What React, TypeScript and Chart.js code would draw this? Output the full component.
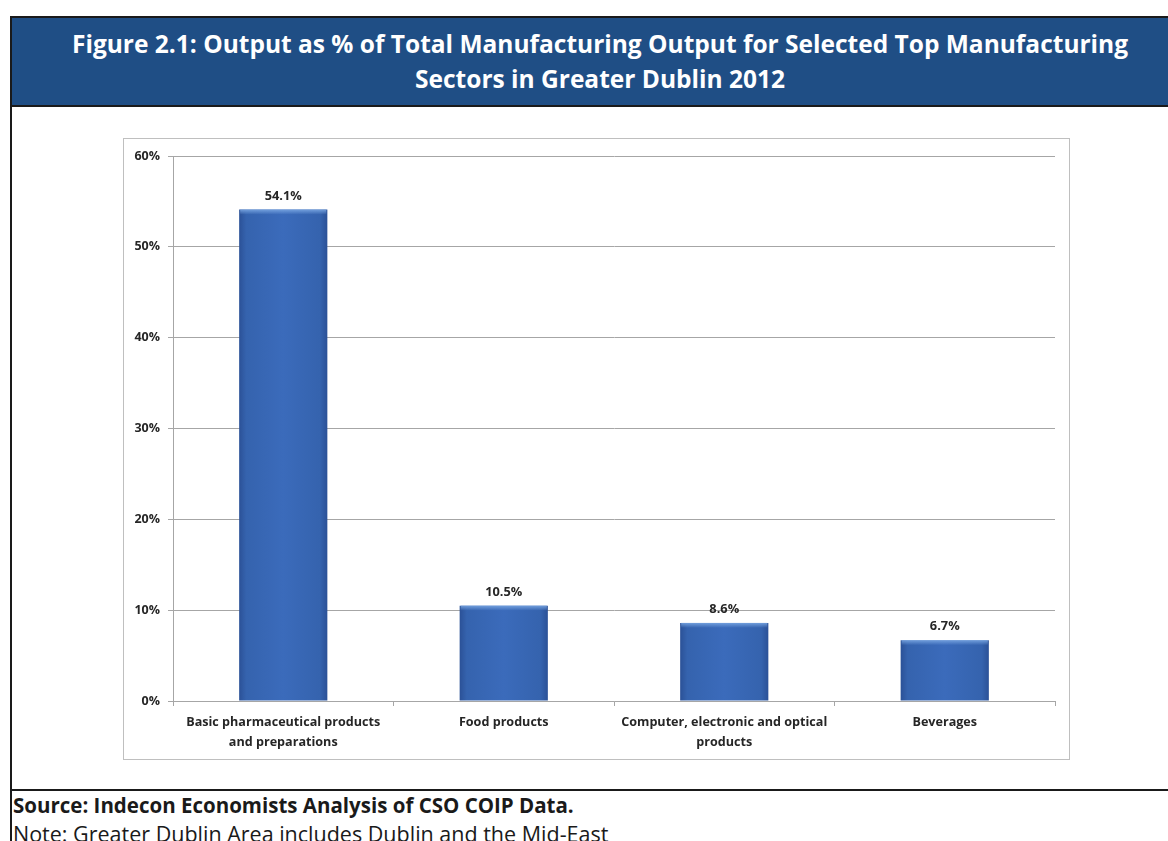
import React, { useEffect, useRef } from "react";
import { Chart, registerables } from "chart.js";

Chart.register(...registerables);

const categories: string[][] = [
  ["Basic pharmaceutical products", "and preparations"],
  ["Food products"],
  ["Computer, electronic and optical", "products"],
  ["Beverages"],
];
const outputShare: number[] = [54.1, 10.5, 8.6, 6.7];
const yTicks: number[] = [0, 10, 20, 30, 40, 50, 60];

const titleLines: string[] = [
  "Figure 2.1: Output as % of Total Manufacturing Output for Selected Top Manufacturing",
  "Sectors in Greater Dublin 2012",
];
const sourceText = "Source: Indecon Economists Analysis of CSO COIP Data.";
const noteText = "Note: Greater Dublin Area includes Dublin and the Mid-East";

const FONT = "'Open Sans', Lato, sans-serif";

const dataLabelPlugin = {
  id: "dataLabels",
  afterDatasetsDraw(chart: any) {
    const ctx = chart.ctx;
    const meta = chart.getDatasetMeta(0);
    ctx.save();
    ctx.font = `bold 12.8px ${FONT}`;
    ctx.fillStyle = "#262626";
    ctx.textAlign = "center";
    ctx.textBaseline = "bottom";
    meta.data.forEach((el: any, i: number) => {
      ctx.fillText(outputShare[i].toFixed(1) + "%", el.x, el.y - 7);
    });
    ctx.restore();
  },
};

function barFill(c: any) {
  const chart = c.chart;
  const xs = chart.scales?.x;
  const ys = chart.scales?.y;
  if (!xs || !ys || c.dataIndex == null || !chart.chartArea) return "#3A68B8";
  const cx = xs.getPixelForValue(c.dataIndex);
  const half = (xs.width / categories.length) * 0.4 / 2;
  const g = chart.ctx.createLinearGradient(cx - half, 0, cx + half, 0);
  g.addColorStop(0, "#2B5197");
  g.addColorStop(0.08, "#3563AE");
  g.addColorStop(0.5, "#3B6BBB");
  g.addColorStop(0.92, "#3563AE");
  g.addColorStop(1, "#2B5197");
  return g;
}

const topHighlightPlugin = {
  id: "topHighlight",
  afterDatasetsDraw(chart: any) {
    const ctx = chart.ctx;
    const meta = chart.getDatasetMeta(0);
    ctx.save();
    meta.data.forEach((el: any) => {
      const left = el.x - el.width / 2;
      const g = ctx.createLinearGradient(0, el.y, 0, el.y + 5);
      g.addColorStop(0, "rgba(120,165,225,0.9)");
      g.addColorStop(1, "rgba(120,165,225,0)");
      ctx.fillStyle = g;
      ctx.fillRect(left + 1, el.y, el.width - 2, 5);
    });
    ctx.restore();
  },
};

function BarChart() {
  const ref = useRef<HTMLCanvasElement | null>(null);
  useEffect(() => {
    if (!ref.current) return;
    const chart = new Chart(ref.current, {
      type: "bar",
      data: {
        labels: categories,
        datasets: [
          {
            data: outputShare,
            backgroundColor: barFill,
            borderWidth: 0,
            barPercentage: 0.8,
            categoryPercentage: 0.5,
          },
        ],
      },
      options: {
        animation: false,
        responsive: false,
        maintainAspectRatio: false,
        layout: { padding: { top: 17, right: 14, left: 0, bottom: 0 } },
        plugins: {
          legend: { display: false },
          tooltip: { enabled: false },
          title: { display: false },
        },
        scales: {
          x: {
            grid: {
              display: true,
              drawOnChartArea: false,
              drawTicks: true,
              tickLength: 5,
              color: "#A6A6A6",
              offset: true,
            },
            border: { display: true, color: "#A6A6A6", width: 1 },
            ticks: {
              font: { family: FONT, size: 12.6, weight: "bold", lineHeight: 1.6 },
              color: "#262626",
              padding: 6,
              maxRotation: 0,
              autoSkip: false,
            },
            afterFit(scale: any) {
              scale.height = 58;
            },
          },
          y: {
            min: 0,
            max: 60,
            afterBuildTicks(scale: any) {
              scale.ticks = yTicks.map((v) => ({ value: v }));
            },
            grid: {
              color: "#A6A6A6",
              tickLength: 5,
              drawTicks: true,
            },
            border: { display: true, color: "#A6A6A6", width: 1 },
            ticks: {
              font: { family: FONT, size: 12.5, weight: "bold" },
              color: "#262626",
              padding: 8,
              callback: (v: any) => v + "%",
            },
            afterFit(scale: any) {
              scale.width = 49;
            },
          },
        },
      },
      plugins: [topHighlightPlugin, dataLabelPlugin],
    });
    return () => chart.destroy();
  }, []);
  return <canvas ref={ref} width={945} height={620} style={{ display: "block" }} />;
}

export default function App() {
  return (
    <div
      style={{
        position: "absolute",
        left: 0,
        top: 0,
        width: 1168,
        height: 841,
        overflow: "hidden",
        background: "#ffffff",
        fontFamily: FONT,
      }}
    >
      <div
        style={{
          position: "absolute",
          left: 10,
          top: 16,
          width: 1180,
          height: 900,
          borderLeft: "2px solid #1a1a1a",
          borderTop: "2px solid #1a1a1a",
          boxSizing: "border-box",
        }}
      />
      <div
        style={{
          position: "absolute",
          left: 10,
          top: 16,
          width: 1180,
          height: 91,
          background: "#1F4E85",
          border: "2px solid #1a1a1a",
          boxSizing: "border-box",
          color: "#ffffff",
          fontWeight: 700,
          fontSize: 24.5,
          lineHeight: "35px",
          textAlign: "center",
          paddingTop: 8,
          whiteSpace: "nowrap",
        }}
      >
        {titleLines.map((t, i) => (
          <div key={i}>{t}</div>
        ))}
      </div>
      <div
        style={{
          position: "absolute",
          left: 123,
          top: 138,
          width: 947,
          height: 622,
          border: "1px solid #BFBFBF",
          boxSizing: "border-box",
        }}
      >
        <BarChart />
      </div>
      <div
        style={{
          position: "absolute",
          left: 10,
          top: 789,
          width: 1180,
          height: 2,
          background: "#1a1a1a",
        }}
      />
      <div
        style={{
          position: "absolute",
          left: 13,
          top: 792,
          fontSize: 20.5,
          fontWeight: 700,
          color: "#1a1a1a",
          whiteSpace: "nowrap",
          lineHeight: "26px",
        }}
      >
        {sourceText}
      </div>
      <div
        style={{
          position: "absolute",
          left: 13,
          top: 821,
          fontSize: 21.5,
          fontWeight: 400,
          color: "#1a1a1a",
          whiteSpace: "nowrap",
          lineHeight: "26px",
        }}
      >
        {noteText}
      </div>
    </div>
  );
}
